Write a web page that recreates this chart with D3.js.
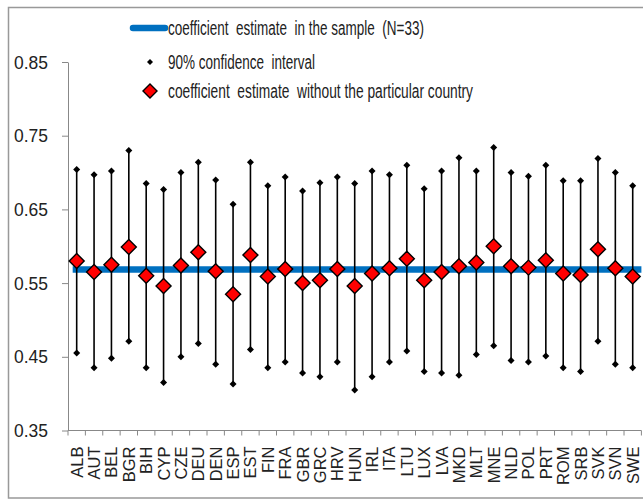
<!DOCTYPE html>
<html>
<head>
<meta charset="utf-8">
<script src="https://cdn.jsdelivr.net/npm/d3@7"></script>
<style>
  body { margin: 0; background: #fff; }
  svg text { fill: #222; }
</style>
</head>
<body>
<div id="vizArea"></div>
<script>
// DATA
var countries = ["ALB","AUT","BEL","BGR","BIH","CYP","CZE","DEU","DEN","ESP","EST","FIN","FRA","GBR","GRC","HRV","HUN","IRL","ITA","LTU","LUX","LVA","MKD","MLT","MNE","NLD","POL","PRT","ROM","SRB","SVK","SVN","SWE"];
var estimate = [0.580,0.565,0.575,0.599,0.560,0.546,0.574,0.592,0.566,0.535,0.588,0.559,0.569,0.550,0.554,0.569,0.546,0.563,0.570,0.583,0.554,0.565,0.573,0.578,0.600,0.573,0.571,0.581,0.563,0.561,0.596,0.570,0.559];
var upper = [0.704,0.697,0.702,0.730,0.685,0.677,0.700,0.714,0.690,0.657,0.714,0.682,0.694,0.675,0.686,0.694,0.685,0.702,0.697,0.710,0.678,0.702,0.720,0.702,0.734,0.700,0.695,0.710,0.689,0.689,0.719,0.700,0.682];
var lower = [0.455,0.435,0.448,0.471,0.435,0.415,0.450,0.468,0.440,0.413,0.460,0.435,0.443,0.428,0.423,0.443,0.405,0.423,0.443,0.458,0.430,0.428,0.425,0.453,0.465,0.445,0.443,0.451,0.435,0.430,0.471,0.440,0.435];
var sampleEstimate = 0.5686;
var yTicks = [0.35,0.45,0.55,0.65,0.75,0.85];
var legendLabels = ["coefficient  estimate  in the sample  (N=33)", "90% confidence  interval", "coefficient  estimate  without the particular country"];
var legendWidths = [256, 147, 305];

var W = 643, H = 500;
var narrow = "'Liberation Sans Narrow', 'Arial Narrow', 'Liberation Sans', Arial, sans-serif";
var canvas = d3.select("#vizArea")
  .append("svg")
    .attr("width", W)
    .attr("height", H);

// BORDER
canvas.append("rect")
  .attr("x", 8.5).attr("y", 7.5)
  .attr("width", 640).attr("height", 490.5)
  .attr("fill", "white")
  .attr("stroke", "#999")
  .attr("stroke-width", 1.5);

// SCALES
var x = d3.scaleBand().domain(countries).range([68, 641.4]);
var y = d3.scaleLinear().domain([0.35, 0.85]).range([430.5, 62]);
var cx = function(c) { return x(c) + x.bandwidth() / 2; };

// AXES
var yAxis = canvas.append("g")
  .attr("transform", "translate(68,0)")
  .call(d3.axisLeft(y).tickValues(yTicks).tickFormat(d3.format(".2f")).tickSize(6).tickSizeOuter(0).tickPadding(14));
yAxis.selectAll("text")
  .attr("font-family", narrow)
  .attr("font-size", 19)
  .attr("textLength", 34)
  .attr("lengthAdjust", "spacingAndGlyphs")
  .attr("fill", "#222");
yAxis.select(".domain").attr("stroke", "#888");
yAxis.selectAll(".tick line").attr("stroke", "#888");

var xAxis = canvas.append("g")
  .attr("transform", "translate(0," + y(0.35) + ")");
xAxis.append("line")
  .attr("x1", 68).attr("x2", x.range()[1])
  .attr("stroke", "#888");
xAxis.selectAll(".tk")
  .data(d3.range(countries.length + 1))
  .enter().append("line")
    .attr("x1", function(i) { return 68 + i * x.step(); })
    .attr("x2", function(i) { return 68 + i * x.step(); })
    .attr("y1", 0).attr("y2", 5)
    .attr("stroke", "#888");
xAxis.selectAll(".lbl")
  .data(countries)
  .enter().append("text")
    .attr("transform", function(c) { return "translate(" + cx(c) + ",16) rotate(-90)"; })
    .attr("dy", "0.36em")
    .attr("text-anchor", "end")
    .attr("font-family", "'Liberation Sans', Arial, sans-serif")
    .attr("font-size", 16.5)
    .text(function(c) { return c; });

// SAMPLE ESTIMATE LINE
canvas.append("line")
  .attr("x1", cx(countries[0]) - 4).attr("x2", x.range()[1])
  .attr("y1", y(sampleEstimate)).attr("y2", y(sampleEstimate))
  .attr("stroke", "#0070C0")
  .attr("stroke-width", 6.5);

// CONFIDENCE INTERVALS
var diamond = function(r) { return "M0," + (-r) + "L" + r + ",0L0," + r + "L" + (-r) + ",0Z"; };
var groups = canvas.selectAll(".ci")
  .data(countries)
  .enter().append("g")
    .attr("transform", function(c) { return "translate(" + cx(c) + ",0)"; });

groups.append("line")
  .attr("y1", function(c, i) { return y(upper[i]); })
  .attr("y2", function(c, i) { return y(lower[i]); })
  .attr("stroke", "black")
  .attr("stroke-width", 1.6);
groups.append("path")
  .attr("d", diamond(3.5))
  .attr("transform", function(c, i) { return "translate(0," + y(upper[i]) + ")"; })
  .attr("fill", "black");
groups.append("path")
  .attr("d", diamond(3.5))
  .attr("transform", function(c, i) { return "translate(0," + y(lower[i]) + ")"; })
  .attr("fill", "black");
groups.append("path")
  .attr("d", diamond(7.5))
  .attr("transform", function(c, i) { return "translate(0," + y(estimate[i]) + ")"; })
  .attr("fill", "#FF0000")
  .attr("stroke", "black")
  .attr("stroke-width", 1.4);

// LEGEND
var legendY = [28, 62, 91];
var legend = canvas.append("g");
legend.append("line")
  .attr("x1", 133).attr("x2", 165)
  .attr("y1", legendY[0]).attr("y2", legendY[0])
  .attr("stroke", "#0070C0").attr("stroke-width", 6.5)
  .attr("stroke-linecap", "round");
legend.append("path")
  .attr("d", diamond(3))
  .attr("transform", "translate(150," + legendY[1] + ")")
  .attr("fill", "black");
legend.append("path")
  .attr("d", diamond(7))
  .attr("transform", "translate(150," + legendY[2] + ")")
  .attr("fill", "#FF0000").attr("stroke", "black").attr("stroke-width", 1.4);
legend.selectAll(".lt")
  .data(legendLabels)
  .enter().append("text")
    .attr("x", 168)
    .attr("y", function(d, i) { return legendY[i]; })
    .attr("dy", "0.36em")
    .attr("font-family", narrow)
    .attr("font-size", 20)
    .attr("textLength", function(d, i) { return legendWidths[i]; })
    .attr("lengthAdjust", "spacingAndGlyphs")
    .attr("xml:space", "preserve")
    .text(function(d) { return d; });
</script>
</body>
</html>
